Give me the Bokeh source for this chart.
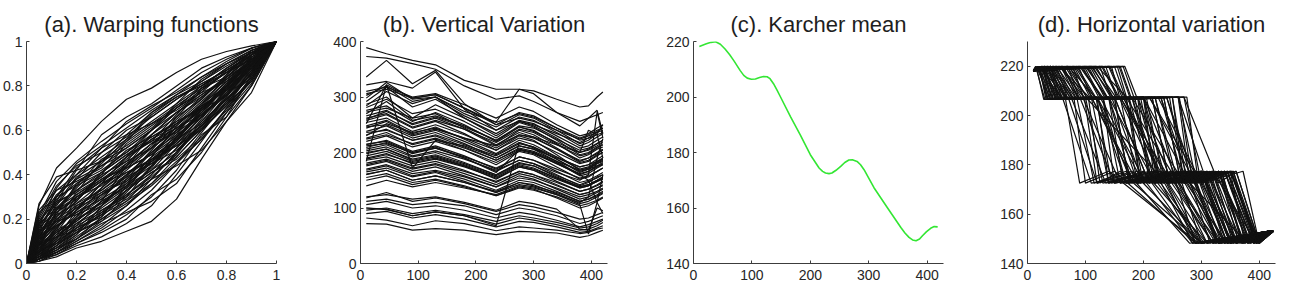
from bokeh.plotting import figure
from bokeh.layouts import row
from bokeh.models import Range1d, FixedTicker, NumeralTickFormatter
from bokeh.embed import file_html
from bokeh.resources import INLINE

FONT = "Liberation Sans"

# ---------------- (a) warping functions: gamma(t) sampled on A_T ----------------
A_T = [0, 0.05, 0.12, 0.2, 0.3, 0.4, 0.5, 0.6, 0.7, 0.8, 0.9, 1.0]
A_CURVES = [
    [0, 0.26, 0.43, 0.52, 0.64, 0.74, 0.79, 0.86, 0.92, 0.955, 0.98, 1],
    [0, 0.27, 0.39, 0.42, 0.46, 0.52, 0.60, 0.70, 0.80, 0.88, 0.95, 1],
    [0, 0.22, 0.37, 0.46, 0.55, 0.63, 0.70, 0.78, 0.86, 0.92, 0.97, 1],
    [0, 0.18, 0.30, 0.40, 0.52, 0.64, 0.71, 0.77, 0.84, 0.90, 0.96, 1],
    [0, 0.15, 0.28, 0.42, 0.58, 0.66, 0.72, 0.80, 0.88, 0.93, 0.97, 1],
    [0, 0.12, 0.25, 0.34, 0.45, 0.56, 0.68, 0.76, 0.82, 0.89, 0.95, 1],
    [0, 0.10, 0.22, 0.36, 0.42, 0.50, 0.60, 0.72, 0.83, 0.90, 0.95, 1],
    [0, 0.09, 0.20, 0.28, 0.40, 0.54, 0.62, 0.70, 0.78, 0.86, 0.94, 1],
    [0, 0.08, 0.18, 0.30, 0.38, 0.46, 0.58, 0.68, 0.76, 0.84, 0.93, 1],
    [0, 0.07, 0.16, 0.24, 0.36, 0.48, 0.56, 0.64, 0.74, 0.85, 0.94, 1],
    [0, 0.06, 0.14, 0.26, 0.33, 0.42, 0.52, 0.66, 0.78, 0.86, 0.92, 1],
    [0, 0.05, 0.13, 0.22, 0.30, 0.40, 0.50, 0.60, 0.70, 0.80, 0.90, 1],
    [0, 0.04, 0.12, 0.20, 0.31, 0.38, 0.46, 0.58, 0.72, 0.82, 0.91, 1],
    [0, 0.04, 0.10, 0.18, 0.26, 0.36, 0.48, 0.62, 0.72, 0.80, 0.88, 1],
    [0, 0.03, 0.09, 0.17, 0.28, 0.34, 0.42, 0.54, 0.66, 0.78, 0.90, 1],
    [0, 0.03, 0.08, 0.15, 0.22, 0.32, 0.44, 0.56, 0.68, 0.80, 0.91, 1],
    [0, 0.02, 0.07, 0.14, 0.24, 0.30, 0.38, 0.50, 0.64, 0.77, 0.90, 1],
    [0, 0.02, 0.06, 0.12, 0.20, 0.28, 0.40, 0.52, 0.62, 0.74, 0.87, 1],
    [0, 0.02, 0.05, 0.10, 0.17, 0.26, 0.36, 0.48, 0.60, 0.72, 0.86, 1],
    [0, 0.01, 0.04, 0.08, 0.12, 0.18, 0.26, 0.40, 0.55, 0.70, 0.82, 1],
    [0, 0.01, 0.03, 0.07, 0.10, 0.145, 0.19, 0.29, 0.47, 0.64, 0.77, 1],
    [0, 0.02, 0.05, 0.09, 0.15, 0.22, 0.30, 0.42, 0.58, 0.66, 0.80, 1],
    [0, 0.05, 0.10, 0.16, 0.22, 0.28, 0.36, 0.46, 0.56, 0.70, 0.84, 1],
    [0, 0.08, 0.15, 0.20, 0.26, 0.34, 0.46, 0.54, 0.62, 0.72, 0.86, 1],
    [0, 0.11, 0.20, 0.26, 0.32, 0.40, 0.50, 0.58, 0.66, 0.76, 0.88, 1],
    [0, 0.14, 0.24, 0.30, 0.35, 0.44, 0.54, 0.63, 0.70, 0.78, 0.90, 1],
    [0, 0.17, 0.27, 0.33, 0.40, 0.46, 0.52, 0.60, 0.69, 0.79, 0.92, 1],
    [0, 0.20, 0.33, 0.40, 0.48, 0.56, 0.64, 0.72, 0.80, 0.88, 0.95, 1],
    [0, 0.13, 0.26, 0.38, 0.50, 0.60, 0.66, 0.74, 0.81, 0.87, 0.94, 1],
    [0, 0.10, 0.19, 0.32, 0.46, 0.58, 0.68, 0.75, 0.80, 0.86, 0.92, 1],
    [0, 0.06, 0.12, 0.19, 0.28, 0.44, 0.58, 0.68, 0.76, 0.83, 0.91, 1],
    [0, 0.03, 0.07, 0.13, 0.26, 0.38, 0.50, 0.60, 0.70, 0.79, 0.88, 1],
    [0, 0.02, 0.05, 0.11, 0.19, 0.30, 0.44, 0.57, 0.67, 0.76, 0.87, 1],
    [0, 0.07, 0.13, 0.18, 0.24, 0.31, 0.40, 0.52, 0.65, 0.79, 0.93, 1],
    [0, 0.09, 0.17, 0.23, 0.29, 0.36, 0.44, 0.54, 0.64, 0.74, 0.85, 1],
    [0, 0.12, 0.23, 0.29, 0.37, 0.47, 0.56, 0.62, 0.72, 0.84, 0.93, 1],
    [0, 0.16, 0.29, 0.36, 0.44, 0.52, 0.60, 0.68, 0.75, 0.83, 0.92, 1],
    [0, 0.19, 0.31, 0.38, 0.44, 0.50, 0.58, 0.66, 0.74, 0.85, 0.96, 1],
    [0, 0.05, 0.11, 0.21, 0.34, 0.45, 0.54, 0.61, 0.69, 0.81, 0.92, 1],
    [0, 0.04, 0.09, 0.16, 0.25, 0.33, 0.41, 0.48, 0.60, 0.75, 0.89, 1],
    [0, 0.06, 0.16, 0.27, 0.36, 0.43, 0.49, 0.57, 0.68, 0.80, 0.90, 1],
    [0, 0.08, 0.21, 0.31, 0.39, 0.48, 0.60, 0.70, 0.77, 0.82, 0.89, 1],
    [0, 0.10, 0.18, 0.25, 0.34, 0.43, 0.53, 0.65, 0.75, 0.84, 0.94, 1],
    [0, 0.03, 0.08, 0.14, 0.20, 0.27, 0.35, 0.45, 0.59, 0.73, 0.86, 1],
    [0, 0.14, 0.22, 0.27, 0.33, 0.41, 0.47, 0.56, 0.67, 0.80, 0.94, 1],
    [0, 0.21, 0.35, 0.44, 0.50, 0.57, 0.66, 0.74, 0.82, 0.90, 0.96, 1],
    [0, 0.24, 0.33, 0.37, 0.43, 0.55, 0.67, 0.75, 0.81, 0.87, 0.94, 1],
    [0, 0.16, 0.24, 0.35, 0.47, 0.53, 0.61, 0.71, 0.79, 0.86, 0.95, 1],
    [0, 0.11, 0.27, 0.39, 0.46, 0.55, 0.63, 0.69, 0.77, 0.87, 0.94, 1],
    [0, 0.08, 0.24, 0.33, 0.41, 0.51, 0.57, 0.63, 0.73, 0.83, 0.91, 1],
    [0, 0.13, 0.21, 0.28, 0.41, 0.49, 0.55, 0.67, 0.79, 0.88, 0.95, 1],
    [0, 0.06, 0.17, 0.23, 0.31, 0.39, 0.51, 0.63, 0.71, 0.78, 0.88, 1],
    [0, 0.05, 0.15, 0.29, 0.37, 0.45, 0.54, 0.59, 0.67, 0.77, 0.90, 1],
    [0, 0.04, 0.11, 0.24, 0.32, 0.37, 0.45, 0.55, 0.69, 0.81, 0.89, 1],
    [0, 0.03, 0.10, 0.20, 0.27, 0.35, 0.46, 0.53, 0.62, 0.76, 0.91, 1],
    [0, 0.02, 0.08, 0.16, 0.21, 0.31, 0.39, 0.49, 0.63, 0.74, 0.84, 1],
    [0, 0.02, 0.06, 0.13, 0.23, 0.33, 0.41, 0.47, 0.57, 0.69, 0.83, 1],
    [0, 0.01, 0.05, 0.10, 0.16, 0.24, 0.33, 0.45, 0.56, 0.68, 0.81, 1],
    [0, 0.02, 0.04, 0.09, 0.14, 0.20, 0.31, 0.38, 0.50, 0.66, 0.85, 1],
    [0, 0.04, 0.07, 0.11, 0.18, 0.23, 0.28, 0.36, 0.52, 0.68, 0.83, 1],
    [0, 0.06, 0.09, 0.14, 0.19, 0.26, 0.38, 0.44, 0.51, 0.64, 0.80, 1],
    [0, 0.09, 0.14, 0.19, 0.28, 0.35, 0.42, 0.50, 0.61, 0.71, 0.83, 1],
    [0, 0.12, 0.19, 0.22, 0.27, 0.37, 0.48, 0.56, 0.63, 0.75, 0.90, 1],
    [0, 0.15, 0.19, 0.25, 0.31, 0.39, 0.45, 0.51, 0.61, 0.73, 0.87, 1],
    [0, 0.18, 0.25, 0.31, 0.38, 0.43, 0.49, 0.59, 0.71, 0.82, 0.91, 1],
    [0, 0.23, 0.30, 0.35, 0.41, 0.49, 0.57, 0.64, 0.70, 0.80, 0.92, 1],
    [0, 0.10, 0.23, 0.30, 0.37, 0.44, 0.52, 0.61, 0.71, 0.78, 0.87, 1],
    [0, 0.07, 0.14, 0.21, 0.29, 0.40, 0.47, 0.55, 0.66, 0.78, 0.92, 1],
    [0, 0.05, 0.12, 0.17, 0.23, 0.29, 0.38, 0.50, 0.62, 0.72, 0.82, 1],
    [0, 0.03, 0.06, 0.11, 0.21, 0.35, 0.47, 0.53, 0.60, 0.71, 0.86, 1],
    [0, 0.08, 0.12, 0.15, 0.22, 0.33, 0.43, 0.57, 0.69, 0.76, 0.85, 1],
    [0, 0.12, 0.17, 0.24, 0.36, 0.41, 0.46, 0.55, 0.70, 0.81, 0.89, 1],
    [0, 0.19, 0.28, 0.32, 0.39, 0.48, 0.55, 0.61, 0.67, 0.76, 0.90, 1],
    [0, 0.14, 0.30, 0.43, 0.52, 0.58, 0.63, 0.71, 0.79, 0.84, 0.91, 1],
    [0, 0.17, 0.34, 0.45, 0.53, 0.61, 0.69, 0.76, 0.84, 0.91, 0.97, 1],
]

# ---------------- (b) aligned functions sampled on B_X ----------------
B_X = [10, 45, 90, 130, 180, 235, 275, 300, 340, 380, 395, 410, 420]
B_CURVES = [
    [389, 378, 366, 358, 330, 314, 314, 311, 296, 282, 284, 300, 309],
    [373, 370, 360, 350, 320, 296, 302, 292, 272, 256, 262, 268, 272],
    [336, 366, 324, 348, 288, 250, 262, 256, 240, 224, 230, 236, 240],
    [322, 328, 316, 345, 278, 240, 256, 250, 234, 218, 226, 232, 236],
    [303, 320, 292, 300, 274, 255, 314, 306, 272, 248, 262, 276, 234],
    [184, 322, 298, 304, 280, 254, 270, 264, 244, 226, 232, 240, 244],
    [252, 322, 172, 222, 212, 190, 212, 206, 190, 174, 178, 184, 188],
    [100, 97, 86, 93, 86, 68, 218, 208, 188, 166, 170, 176, 178],
    [206, 214, 194, 203, 188, 168, 186, 180, 164, 150, 160, 273, 226],
    [160, 168, 150, 158, 146, 128, 142, 138, 124, 106, 53, 110, 160],
    [306, 314, 298, 304, 280, 250, 272, 266, 244, 222, 226, 238, 244],
    [298, 326, 296, 300, 270, 246, 268, 262, 240, 216, 222, 234, 250],
    [292, 318, 282, 296, 266, 240, 264, 258, 236, 212, 218, 228, 234],
    [287, 300, 262, 286, 262, 234, 258, 252, 230, 208, 212, 222, 228],
    [281, 296, 270, 278, 256, 226, 254, 246, 222, 196, 200, 210, 214],
    [276, 284, 256, 272, 250, 220, 246, 240, 216, 190, 196, 206, 210],
    [270, 292, 258, 266, 248, 222, 248, 244, 224, 204, 208, 216, 222],
    [266, 276, 250, 262, 242, 212, 240, 232, 208, 184, 190, 198, 204],
    [262, 270, 246, 258, 242, 218, 242, 236, 214, 194, 198, 208, 214],
    [258, 268, 244, 256, 234, 204, 230, 222, 196, 168, 172, 182, 188],
    [254, 262, 238, 250, 232, 208, 232, 226, 206, 186, 190, 200, 206],
    [248, 258, 234, 246, 224, 198, 222, 214, 192, 170, 174, 184, 190],
    [244, 256, 232, 242, 226, 204, 226, 220, 200, 180, 184, 194, 200],
    [238, 248, 226, 236, 216, 190, 212, 206, 184, 160, 166, 176, 182],
    [232, 242, 222, 232, 214, 194, 216, 210, 192, 174, 178, 188, 194],
    [226, 236, 214, 224, 204, 178, 202, 196, 174, 152, 156, 166, 172],
    [220, 230, 210, 220, 204, 182, 204, 198, 180, 162, 166, 174, 180],
    [214, 222, 202, 212, 194, 170, 192, 186, 166, 146, 150, 158, 164],
    [209, 218, 198, 208, 192, 172, 192, 186, 170, 154, 158, 166, 172],
    [203, 210, 192, 200, 182, 160, 182, 176, 156, 138, 142, 150, 156],
    [198, 206, 188, 196, 180, 160, 180, 176, 158, 142, 148, 154, 160],
    [194, 202, 184, 192, 176, 152, 174, 168, 148, 130, 134, 142, 148],
    [190, 198, 180, 188, 174, 154, 174, 168, 152, 136, 140, 148, 154],
    [186, 192, 176, 184, 168, 146, 166, 160, 142, 124, 128, 136, 142],
    [181, 188, 172, 180, 166, 148, 166, 160, 146, 130, 134, 140, 146],
    [176, 184, 166, 174, 158, 138, 158, 152, 134, 116, 120, 128, 134],
    [170, 178, 162, 168, 156, 138, 154, 150, 136, 120, 124, 130, 136],
    [165, 172, 156, 164, 148, 128, 146, 142, 126, 108, 112, 120, 126],
    [161, 168, 150, 158, 146, 130, 146, 140, 128, 112, 116, 122, 128],
    [155, 162, 146, 152, 140, 122, 138, 134, 118, 100, 104, 112, 118],
    [150, 158, 142, 150, 138, 122, 136, 132, 120, 104, 108, 114, 120],
    [118, 128, 112, 118, 108, 94, 106, 102, 92, 80, 82, 88, 92],
    [112, 116, 106, 110, 104, 88, 100, 96, 86, 72, 76, 82, 86],
    [100, 98, 86, 93, 86, 71, 82, 78, 70, 60, 62, 68, 74],
    [96, 100, 90, 96, 88, 76, 86, 82, 74, 64, 66, 72, 78],
    [90, 94, 82, 88, 80, 66, 76, 74, 66, 56, 58, 64, 68],
    [82, 78, 68, 77, 72, 59, 66, 64, 60, 54, 56, 62, 64],
    [72, 71, 60, 63, 60, 52, 58, 57, 55, 47, 50, 56, 60],
    [230, 252, 236, 244, 226, 212, 232, 228, 214, 200, 240, 232, 190],
    [140, 150, 138, 146, 136, 124, 140, 136, 124, 110, 120, 190, 225],
    [120, 124, 116, 120, 110, 96, 112, 108, 98, 62, 60, 100, 95],
    [310, 318, 300, 306, 286, 262, 282, 274, 250, 230, 234, 244, 250],
    [284, 310, 288, 300, 262, 230, 256, 248, 226, 200, 206, 216, 222],
    [273, 280, 262, 270, 244, 214, 236, 228, 206, 182, 186, 196, 200],
    [260, 274, 252, 264, 246, 222, 246, 238, 218, 200, 204, 212, 218],
    [246, 250, 230, 240, 220, 196, 218, 210, 188, 164, 170, 180, 184],
    [236, 240, 222, 230, 210, 186, 206, 200, 182, 158, 162, 172, 178],
    [224, 232, 216, 226, 208, 186, 208, 202, 184, 168, 172, 180, 186],
    [212, 216, 200, 208, 190, 166, 186, 180, 160, 140, 146, 156, 160],
    [200, 206, 186, 194, 178, 158, 178, 172, 154, 136, 140, 148, 152],
    [188, 196, 182, 190, 176, 156, 176, 170, 154, 138, 142, 150, 156],
    [178, 186, 170, 178, 162, 142, 162, 156, 140, 124, 128, 136, 140],
    [168, 176, 158, 166, 152, 132, 150, 146, 130, 112, 116, 124, 130],
    [106, 112, 100, 104, 96, 82, 92, 88, 78, 66, 70, 76, 80],
    [215, 220, 200, 210, 190, 164, 205, 200, 180, 160, 150, 110, 90],
]

# ---------------- (c) Karcher mean ----------------
C_X = [10, 22, 30, 38, 46, 54, 62, 69, 80, 86, 92, 99, 106, 113, 120, 126,
       131, 137, 143, 149, 166, 183, 200, 215, 221, 226, 232, 237, 244, 252,
       259, 266, 272, 280, 286, 292, 300, 309, 332, 355, 362, 369, 375, 381,
       387, 392, 399, 406, 412, 418]
C_Y = [218.2, 219.2, 219.7, 219.9, 219.0, 217.3, 215.2, 213.1, 209.5, 207.8,
       206.8, 206.4, 206.5, 207.0, 207.4, 207.3, 206.6, 204.8, 202.5, 200.0,
       192.9, 186.3, 179.2, 174.4, 173.2, 172.6, 172.4, 172.6, 173.6, 175.0,
       176.4, 177.3, 177.4, 176.8, 175.6, 173.8, 170.8, 167.3, 160.1, 153.0,
       151.0, 149.4, 148.5, 148.2, 148.8, 150.0, 151.5, 152.7, 153.3, 153.2]

# ---------------- (d) horizontal variation ----------------
# landmark levels of the mean, and where each curve passes them
D_LEVELS = [218.2, 219.9, 206.5, 207.5, 172.6, 177.4, 148.2, 153.2]
D_TIMES = [
    [10, 20, 32, 150, 175, 300, 340, 420],
    [10, 25, 40, 200, 230, 320, 360, 420],
    [10, 30, 45, 120, 200, 260, 330, 420],
    [10, 18, 35, 90, 150, 250, 310, 420],
    [10, 40, 60, 100, 130, 210, 300, 420],
    [10, 60, 90, 110, 140, 200, 290, 420],
    [10, 80, 110, 130, 170, 240, 320, 420],
    [10, 100, 140, 180, 220, 300, 350, 422],
    [10, 130, 160, 200, 260, 330, 385, 424],
    [10, 165, 185, 230, 280, 345, 395, 424],
    [10, 150, 170, 270, 300, 350, 400, 425],
    [10, 120, 175, 270, 330, 360, 400, 425],
    [10, 20, 70, 275, 295, 350, 395, 424],
    [10, 22, 50, 80, 100, 150, 290, 420],
    [10, 35, 55, 70, 120, 180, 300, 420],
    [10, 45, 75, 95, 160, 230, 310, 420],
    [10, 55, 100, 140, 190, 250, 320, 420],
    [10, 70, 120, 150, 210, 270, 340, 421],
    [10, 90, 130, 160, 240, 300, 360, 422],
    [10, 110, 150, 190, 250, 320, 370, 423],
    [10, 25, 55, 180, 230, 310, 350, 420],
    [10, 30, 60, 160, 250, 330, 380, 422],
    [10, 15, 40, 220, 260, 340, 390, 423],
    [10, 28, 48, 240, 290, 350, 398, 425],
    [10, 50, 90, 250, 270, 330, 365, 420],
    [10, 40, 80, 105, 125, 160, 300, 420],
    [10, 60, 95, 130, 150, 280, 340, 420],
    [10, 75, 115, 140, 180, 200, 310, 420],
    [10, 95, 125, 170, 200, 260, 300, 420],
    [10, 140, 165, 190, 230, 280, 330, 421],
    [10, 160, 180, 200, 220, 300, 360, 422],
    [10, 20, 60, 140, 220, 280, 330, 420],
    [10, 32, 70, 120, 170, 300, 345, 420],
    [10, 45, 85, 160, 190, 350, 375, 423],
    [10, 65, 100, 200, 240, 355, 392, 424],
    [10, 85, 120, 210, 290, 340, 390, 424],
    [10, 105, 135, 180, 270, 325, 375, 422],
    [10, 18, 45, 100, 240, 310, 360, 421],
    [10, 22, 38, 130, 160, 270, 330, 420],
    [10, 38, 65, 150, 210, 250, 290, 420],
    [10, 50, 70, 170, 260, 300, 350, 421],
    [10, 70, 90, 190, 210, 260, 380, 423],
    [10, 125, 145, 220, 255, 320, 395, 424],
    [10, 145, 160, 250, 275, 340, 385, 423],
    [10, 26, 42, 60, 110, 230, 290, 420],
    [10, 33, 58, 175, 195, 240, 330, 421],
    [10, 55, 110, 125, 205, 335, 370, 422],
    [10, 115, 155, 165, 245, 290, 355, 422],
    [10, 20, 34, 260, 280, 360, 400, 425],
    [10, 40, 52, 110, 185, 260, 345, 421],
    [10, 15, 28, 120, 140, 230, 300, 420],
    [10, 24, 44, 85, 115, 170, 280, 420],
    [10, 35, 62, 140, 165, 290, 335, 421],
    [10, 48, 78, 175, 215, 285, 330, 421],
    [10, 58, 85, 215, 245, 315, 355, 422],
    [10, 68, 105, 235, 265, 335, 372, 422],
    [10, 78, 98, 145, 200, 275, 315, 420],
    [10, 88, 112, 118, 145, 215, 305, 420],
    [10, 98, 128, 150, 175, 250, 325, 421],
    [10, 108, 140, 205, 235, 290, 345, 422],
    [10, 118, 150, 240, 285, 345, 392, 424],
    [10, 135, 155, 185, 215, 265, 335, 421],
    [10, 155, 172, 215, 245, 310, 368, 423],
    [10, 168, 190, 260, 310, 355, 398, 425],
    [10, 14, 30, 75, 135, 220, 285, 420],
    [10, 19, 36, 110, 190, 285, 325, 420],
    [10, 27, 52, 195, 225, 295, 345, 421],
    [10, 36, 76, 230, 270, 345, 382, 423],
    [10, 44, 66, 262, 285, 340, 390, 424],
    [10, 52, 80, 120, 180, 225, 295, 420],
    [10, 62, 88, 98, 120, 190, 285, 420],
    [10, 72, 104, 165, 235, 305, 352, 422],
    [10, 82, 118, 200, 280, 330, 382, 423],
    [10, 92, 132, 225, 300, 352, 395, 424],
    [10, 102, 138, 170, 195, 235, 320, 421],
    [10, 112, 146, 158, 228, 318, 362, 422],
    [10, 128, 158, 235, 265, 300, 350, 421],
    [10, 142, 168, 260, 292, 330, 372, 423],
    [10, 158, 178, 245, 270, 352, 396, 425],
    [10, 30, 50, 65, 90, 140, 295, 420],
    [10, 40, 70, 210, 300, 372, 400, 425],
]

TICKS_UNIT = [0, 0.2, 0.4, 0.6, 0.8, 1]
TICKS_T = [0, 100, 200, 300, 400]
TICKS_B = [0, 100, 200, 300, 400]
TICKS_CD = [140, 160, 180, 200, 220]


def make_fig(title, width, left, right, top, x_range, y_range):
    p = figure(width=width, height=291, x_range=x_range, y_range=y_range,
               min_border_left=left, min_border_right=right,
               min_border_top=top, min_border_bottom=28,
               output_backend="svg", toolbar_location=None, title=title)
    p.grid.visible = False
    p.outline_line_color = None
    p.background_fill_color = "white"
    p.border_fill_color = "white"
    p.title.text_font = FONT
    p.title.text_font_size = "22px"
    p.title.text_font_style = "normal"
    p.title.text_color = "#1e1e1e"
    p.title.align = "center"
    return p


def style_axes(p, xticks, yticks, fmt=None):
    for ax, ticks in ((p.xaxis[0], xticks), (p.yaxis[0], yticks)):
        ax.ticker = FixedTicker(ticks=ticks)
        if fmt is not None:
            ax.formatter = NumeralTickFormatter(format=fmt)
        ax.major_tick_in = 3
        ax.major_tick_out = 0
        ax.minor_tick_in = 0
        ax.minor_tick_out = 0
        ax.axis_line_color = "#3c3c3c"
        ax.axis_line_width = 1
        ax.major_tick_line_color = "#3c3c3c"
        ax.major_label_text_font = FONT
        ax.major_label_text_font_size = "14px"
        ax.major_label_text_color = "#262626"
    p.xaxis[0].major_label_standoff = 6
    p.yaxis[0].major_label_standoff = 4


LINE = "#111111"

# (a)
pa = make_fig("(a). Warping functions", 330, 25, 54, 40, Range1d(0, 1), Range1d(0, 1))
style_axes(pa, TICKS_UNIT, TICKS_UNIT, fmt="0.[0]")
pa.multi_line(xs=[A_T] * len(A_CURVES), ys=A_CURVES, line_color=LINE, line_width=1.2)

# (b)
pb = make_fig("(b). Vertical Variation", 332, 30, 55, 39, Range1d(0, 428), Range1d(0, 400))
style_axes(pb, TICKS_T, TICKS_B)
pb.multi_line(xs=[B_X] * len(B_CURVES), ys=B_CURVES, line_color=LINE, line_width=1.2)

# (c)
pc = make_fig("(c). Karcher mean", 334, 31, 53, 39, Range1d(0, 428), Range1d(140, 220))
style_axes(pc, TICKS_T, TICKS_CD)
pc.line(C_X, C_Y, line_color="#33e633", line_width=1.6)

# (d)
pd_ = make_fig("(d). Horizontal variation", 295, 31, 16, 41, Range1d(0, 428), Range1d(140, 230))
style_axes(pd_, TICKS_T, TICKS_CD)
pd_.multi_line(xs=D_TIMES, ys=[D_LEVELS] * len(D_TIMES), line_color=LINE, line_width=1.2)

layout = row(pa, pb, pc, pd_)
open("out.html", "w").write(file_html(layout, INLINE))
